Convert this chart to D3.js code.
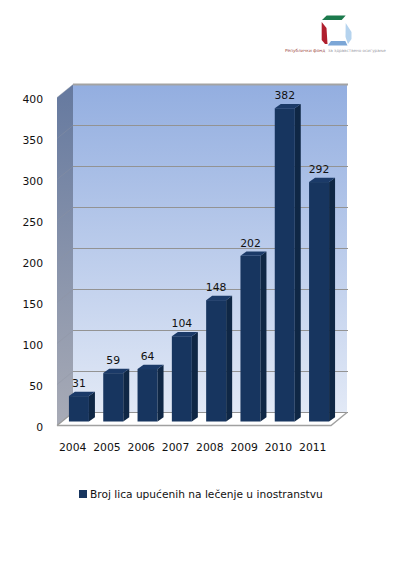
<!DOCTYPE html>
<html><head><meta charset="utf-8">
<script src="https://cdn.jsdelivr.net/npm/d3@7/dist/d3.min.js"></script>
<style>html,body{margin:0;padding:0;background:#fff}svg{display:block}text{font-family:"DejaVu Sans",sans-serif;fill:#111}</style>
</head><body><svg id="c" width="406" height="570"></svg>
<script>
const years = ["2004","2005","2006","2007","2008","2009","2010","2011"];
const patients = [31,59,64,104,148,202,382,292];
const yTicks = [0,50,100,150,200,250,300,350,400];
const legendLabel = "Broj lica upućenih na lečenje u inostranstvu";
const logoName = "Републички фонд";
const logoRest = "за здравствено осигурање";

const svg = d3.select("#c");
const defs = svg.append("defs");
function grad(id, stops){
  const g = defs.append("linearGradient").attr("id",id).attr("x1",0).attr("x2",0).attr("y1",0).attr("y2",1);
  stops.forEach(([o,c])=>g.append("stop").attr("offset",o).attr("stop-color",c));
}
grad("wall",[[0,"#93aee0"],[1,"#e2e9f6"]]);
grad("side",[[0,"#65799f"],[1,"#a8abb6"]]);

const depthX = 16, depthY = 13;
const left = 57, right = 331;
const yFront = d3.scaleLinear().domain([0,400]).range([425.5,97.5]);
const yBack = v => yFront(v) - depthY;
const x = d3.scaleBand().domain(years).range([61.8,336.2]).paddingInner(0.417).paddingOuter(0.208);
const xLabel = d3.scaleBand().domain(years).range([left,left+274.4]);
const yBar = d3.scaleLinear().domain([0,400]).range([421.5,93.5]);
const barDX = 6, barDY = 4.3;
const poly = p => p.map(a=>a.join(",")).join(" ");

// walls
svg.append("polygon").attr("fill","url(#wall)")
  .attr("points",poly([[left+depthX,yBack(400)],[right+depthX,yBack(400)],[right+depthX,yBack(0)],[left+depthX,yBack(0)]]));
svg.append("polygon").attr("fill","url(#side)")
  .attr("points",poly([[left,yFront(400)],[left+depthX,yBack(400)],[left+depthX,yBack(0)],[left,yFront(0)]]));
// floor
svg.append("polygon").attr("fill","#fff")
  .attr("points",poly([[left,yFront(0)],[left+depthX,yBack(0)],[right+depthX,yBack(0)],[right,yFront(0)]]));
// gridlines
yTicks.forEach(t=>{
  const g = svg.append("g");
  g.append("line").attr("x1",left+depthX).attr("x2",right+depthX+1).attr("y1",yBack(t)).attr("y2",yBack(t))
    .attr("stroke",t===400?"#a3a3a3":"#939393").attr("stroke-width",t===400?2:1.1);
  g.append("line").attr("x1",left).attr("x2",left+depthX).attr("y1",yFront(t)).attr("y2",yBack(t))
    .attr("stroke",t===0?"#999":"#8f95a3").attr("stroke-width",t===0?1.3:0.7).attr("opacity",t===0?1:0.55);
});
svg.append("path").attr("fill","none").attr("stroke","#a0a0a0").attr("stroke-width",1.4)
  .attr("d",`M${left},${yFront(0)}H${right}L${right+depthX},${yBack(0)}`);

// bars
const bars = svg.append("g").selectAll("g").data(years.map((y,i)=>({y,v:patients[i]}))).join("g");
bars.append("rect").attr("x",d=>x(d.y)).attr("y",d=>yBar(d.v)).attr("width",x.bandwidth())
  .attr("height",d=>yBar(0)-yBar(d.v)).attr("fill","#17355f");
bars.append("polygon").attr("fill","#0f2745").attr("points",d=>{
  const r=x(d.y)+x.bandwidth();
  return poly([[r,yBar(d.v)],[r+barDX,yBar(d.v)-barDY],[r+barDX,yBar(0)-barDY],[r,yBar(0)]]);
});
bars.append("polygon").attr("fill","#1b3a68").attr("points",d=>{
  const l=x(d.y), r=l+x.bandwidth();
  return poly([[l,yBar(d.v)],[l+barDX,yBar(d.v)-barDY],[r+barDX,yBar(d.v)-barDY],[r,yBar(d.v)]]);
});
bars.append("text").attr("x",d=>x(d.y)+x.bandwidth()/2).attr("y",d=>yBar(d.v)-barDY-4.5)
  .attr("text-anchor","middle").attr("font-size",10.8).text(d=>d.v);

// axes
const axisY = svg.append("g").attr("transform","translate(43,1.5)")
  .call(d3.axisLeft(yFront).tickValues(yTicks).tickSize(0).tickPadding(0));
axisY.select(".domain").remove();
axisY.selectAll("text").attr("font-size",10.8);
const axisX = svg.append("g").attr("transform","translate(-1.5,447)")
  .call(d3.axisBottom(xLabel).tickSize(0).tickPadding(0));
axisX.select(".domain").remove();
axisX.selectAll("text").attr("font-size",10.8).attr("dy","0.35em").attr("y",0);

// legend
svg.append("rect").attr("x",79).attr("y",490).attr("width",8).attr("height",8).attr("fill","#17355f");
svg.append("text").attr("x",90).attr("y",498).attr("font-size",10.63).text(legendLabel);

// logo
const logo = svg.append("g");
[["#1c7a4d",[[322,20],[326.7,15.5],[345.7,15.5],[341.7,20]]],
 ["#b01f2e",[[321.7,22],[326.5,28],[327.5,44],[325,44],[321.7,40]]],
 ["#b5d3ee",[[345.7,23],[351.5,32],[351.5,39],[348,44],[345.5,37]]],
 ["#7ba6d6",[[327.8,45.5],[331,41],[345.3,41],[347.5,45.5]]]
].forEach(([c,p])=>logo.append("polygon").attr("fill",c).attr("points",poly(p)));
svg.append("text").attr("x",285).attr("y",52).attr("font-size",4.3).style("fill","#9c4a45").text(logoName);
svg.append("text").attr("x",328).attr("y",52).attr("font-size",4.1).style("fill","#9a9aa5").text(logoRest);
</script></body></html>
